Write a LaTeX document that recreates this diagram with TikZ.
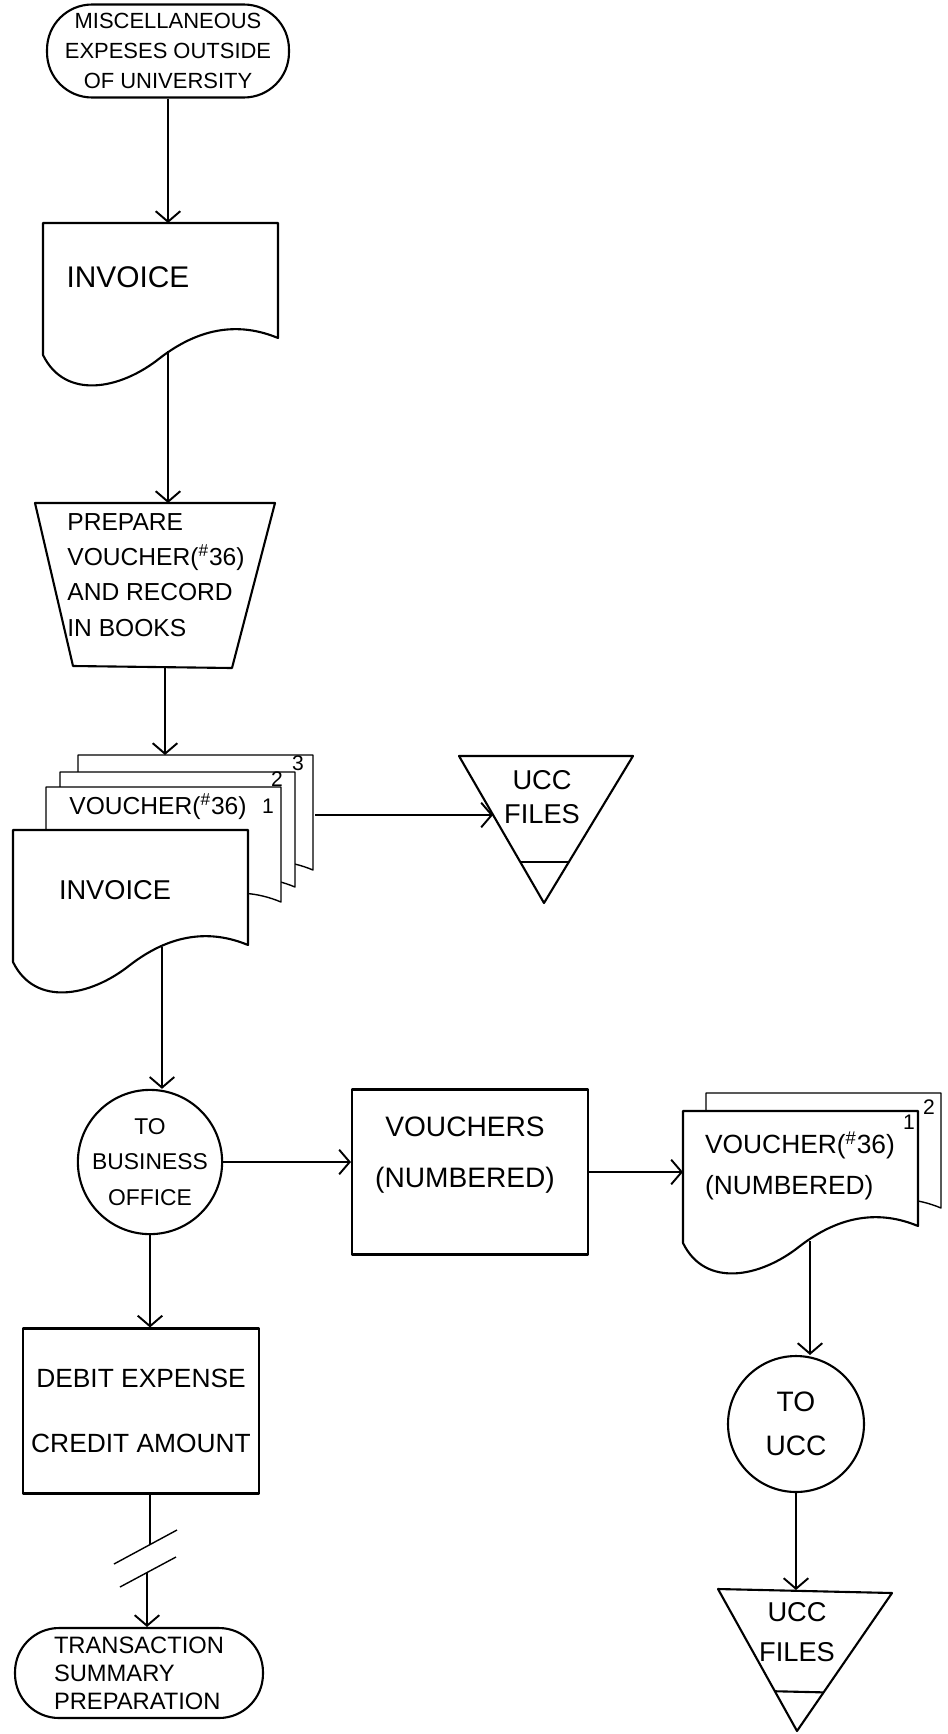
\documentclass[tikz,border=0pt]{standalone}
\usepackage{fontspec}
\setmainfont{Liberation Sans}
\usetikzlibrary{arrows.meta, calc}
\newcommand{\vno}{VOUCHER(\textsuperscript{\#}36)}
\newcommand{\docsheet}[2][]{%
  \draw[outline, fill=white, #1, shift={#2}] (0,0) -- (235,0) -- (235,115)
    .. controls (187,95) and (147,112) .. (117,135)
    .. controls (77,167) and (22,177) .. (0,132) -- cycle;}

\begin{document}
\begin{tikzpicture}[x=0.02cm, y=-0.02cm,
    outline/.style={draw, line width=1.2pt, line join=round},
    thin sheet/.style={line width=0.8pt},
    conn/.style={draw, line width=0.8pt},
    arr/.style={conn, -{Straight Barb[length=6pt, width=14pt, line width=1.1pt]}},
    hand/.style={align=center, inner sep=0pt},
    digit/.style={font=\fontsize{12}{12}\selectfont, inner sep=0pt},
  ]
  \useasboundingbox (0,0) rectangle (947,1734);

  % left column
  \node[outline, rectangle, rounded corners=0.9cm, minimum width=4.84cm,
        minimum height=1.86cm, inner sep=0pt, align=center,
        font=\fontsize{12.5}{17}\selectfont] (misc) at (168,51)
        {MISCELLANEOUS\\EXPESES OUTSIDE\\OF UNIVERSITY};

  \docsheet{(43,223)}
  \node[hand, font=\fontsize{17}{20}\selectfont] (inv1) at (128,277) {INVOICE};
  \coordinate (inv1top) at (170,223);
  \coordinate (inv1out) at (168,351);

  \draw[outline] (35,503) -- (275,503) -- (232,668) -- (73,666) -- cycle;
  \node[hand, align=left, font=\fontsize{14}{20}\selectfont] (prep) at (156,575)
        {PREPARE\\\vno\\AND RECORD\\IN BOOKS};
  \coordinate (prepin) at (168,503);
  \coordinate (prepout) at (165,667);

  \docsheet[thin sheet]{(78,755)}
  \docsheet[thin sheet]{(60,772)}
  \docsheet[thin sheet]{(46,787)}
  \docsheet{(13,830)}
  \node[digit] (d3) at (298,763) {3};
  \node[digit] (d2) at (277,779) {2};
  \node[digit] (d1) at (268,806) {1};
  \node[hand, font=\fontsize{14}{16}\selectfont] (vch1) at (158,807) {\vno};
  \node[hand, font=\fontsize{15.5}{18}\selectfont] (inv2) at (115,890) {INVOICE};
  \coordinate (stkin) at (165,755);
  \coordinate (stkout) at (315,815);
  \coordinate (inv2out) at (162,947);

  \coordinate (u1a) at (459,756);
  \coordinate (u1b) at (633,756);
  \coordinate (u1c) at (544,903);
  \draw[outline] (u1a) -- (u1b) -- (u1c) -- cycle;
  \draw[outline] ($(u1a)!0.72!(u1c)$) -- ($(u1b)!0.72!(u1c)$);
  \node[hand, font=\fontsize{15.5}{19}\selectfont] (ucc1) at (542,797) {UCC\\FILES};
  \coordinate (ucc1in) at (493,815);

  \node[outline, circle, minimum size=2.82cm, inner sep=0pt, align=center,
        font=\fontsize{13}{20}\selectfont] (bus) at (150,1162)
        {TO\\BUSINESS\\OFFICE};

  \node[outline, rectangle, minimum width=4.72cm, minimum height=3.3cm,
        inner sep=0pt, align=center, font=\fontsize{15}{37}\selectfont]
        (debit) at (141,1411) {DEBIT EXPENSE\\CREDIT AMOUNT};
  \coordinate (brk1) at (150,1545);
  \coordinate (brk2) at (147,1573);
  \draw[conn] (114,1564) -- (177,1530);
  \draw[conn] (120,1587) -- (176,1557);

  \node[outline, rectangle, rounded corners=0.88cm, minimum width=4.96cm,
        minimum height=1.8cm, inner sep=0pt, align=left,
        font=\fontsize{13.5}{16}\selectfont] (trans) at (139,1673)
        {TRANSACTION\\SUMMARY\\PREPARATION};

  % middle and right
  \node[outline, rectangle, minimum width=4.72cm, minimum height=3.3cm]
        (vbox) at (470,1172) {};
  \node[hand, font=\fontsize{16}{29}\selectfont] (vboxtxt) at (465,1155)
        {VOUCHERS\\(NUMBERED)};

  \docsheet[thin sheet]{(706,1093)}
  \docsheet{(683,1111)}
  \node[digit] (e2) at (929,1107) {2};
  \node[digit] (e1) at (909,1122) {1};
  \node[hand, align=left, font=\fontsize{15}{23}\selectfont] (vch2) at (800,1166)
        {\vno\\(NUMBERED)};
  \coordinate (v2in) at (683,1172);
  \coordinate (v2out) at (810,1241);

  \node[outline, circle, minimum size=2.72cm, inner sep=0pt, align=center,
        font=\fontsize{16}{25}\selectfont] (tucc) at (796,1424) {TO\\UCC};

  \coordinate (u2a) at (718,1589);
  \coordinate (u2b) at (892,1593);
  \coordinate (u2c) at (797,1731);
  \draw[outline] (u2a) -- (u2b) -- (u2c) -- cycle;
  \draw[outline] ($(u2a)!0.72!(u2c)$) -- ($(u2b)!0.72!(u2c)$);
  \node[hand, font=\fontsize{15.5}{23}\selectfont] (ucc2) at (797,1632) {UCC\\FILES};
  \coordinate (ucc2in) at (805,1590);

  \draw[arr] (misc.south) -- (misc.south |- inv1top);
  \draw[arr] (inv1out) -- (prepin);
  \draw[arr] (prepout) -- (stkin);
  \draw[arr] (stkout) -- (ucc1in);
  \draw[arr] (inv2out) -- (inv2out |- bus.north);
  \draw[arr] (bus.east) -- (bus.east -| vbox.west);
  \draw[arr] (bus.south) -- (bus.south |- debit.north);
  \draw[conn] (debit.south -| brk1) -- (brk1);
  \draw[arr] (brk2) -- (brk2 |- trans.north);
  \draw[arr] (vbox.east) -- (v2in);
  \draw[arr] (v2out) -- (v2out |- tucc.north);
  \draw[arr] (tucc.south) -- (tucc.south |- ucc2in);
\end{tikzpicture}
\end{document}
